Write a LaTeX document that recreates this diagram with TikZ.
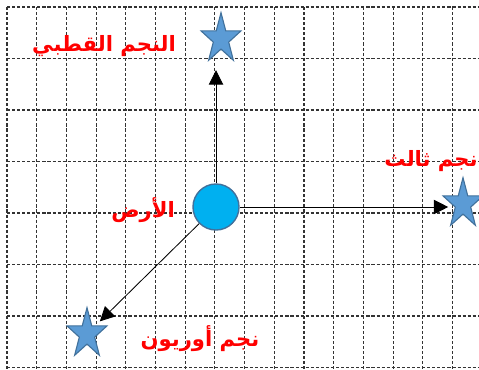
\documentclass[tikz,border=0pt]{standalone}
\usepackage{fontspec}
\newfontfamily\arabicfont[Script=Arabic]{DejaVu Sans}
\TeXXeTstate=1
\usetikzlibrary{shapes.geometric,arrows.meta}

\definecolor{earthfill}{HTML}{00B0F0}
\definecolor{starfill}{HTML}{5B9BD5}
\definecolor{shapeline}{HTML}{41719C}

\begin{document}
\begin{tikzpicture}[x=0.025cm, y=-0.025cm,
    gridline/.style={black!80, line width=0.75pt, dash pattern=on 2.2pt off 1.4pt},
    skystar/.style={star, star points=5, star point ratio=2.6, minimum size=1.05cm,
        inner sep=0pt, yscale=1.25, fill=starfill, draw=shapeline, line width=0.8pt},
    planet/.style={circle, minimum size=1.15cm, inner sep=0pt, fill=earthfill,
        draw=shapeline, line width=1pt},
    redlabel/.style={text=red, font=\arabicfont\bfseries\fontsize{15}{17}\selectfont},
    arr/.style={-{Triangle[length=0.36cm, width=0.36cm]}, line width=0.6pt}]
    \useasboundingbox (0,0) rectangle (479,369);
    % grid
    \foreach \i in {0,...,15}
        \draw[gridline] ({7+29.7*\i},7) -- ({7+29.7*\i},369);
    \foreach \j in {0,...,7}
        \draw[gridline] (7,{7+51.5*\j}) -- (479,{7+51.5*\j});

    \node[planet] (earth) at (216,207) {};
    \node[skystar] (polar) at (221,39) {};
    \node[skystar] (third) at (463,204) {};
    \node[skystar] (orion) at (87,334) {};

    \draw[arr, shorten >=0.78cm] (earth) -- (earth |- polar.center);
    \draw[arr, shorten >=0.37cm] (earth) -- (earth -| third.center);
    \draw[arr, shorten >=0.45cm] (earth) -- (orion.center);

    \node[redlabel] (polarlbl) at (104,46) {\beginR النجم القطبي\endR};
    \node[redlabel] (thirdlbl) at (431,161) {\beginR نجم ثالث\endR};
    \node[redlabel] (earthlbl) at (143,210) {\beginR الأرض\endR};
    \node[redlabel] (orionlbl) at (200,339) {\beginR نجم أوريون\endR};
\end{tikzpicture}
\end{document}
